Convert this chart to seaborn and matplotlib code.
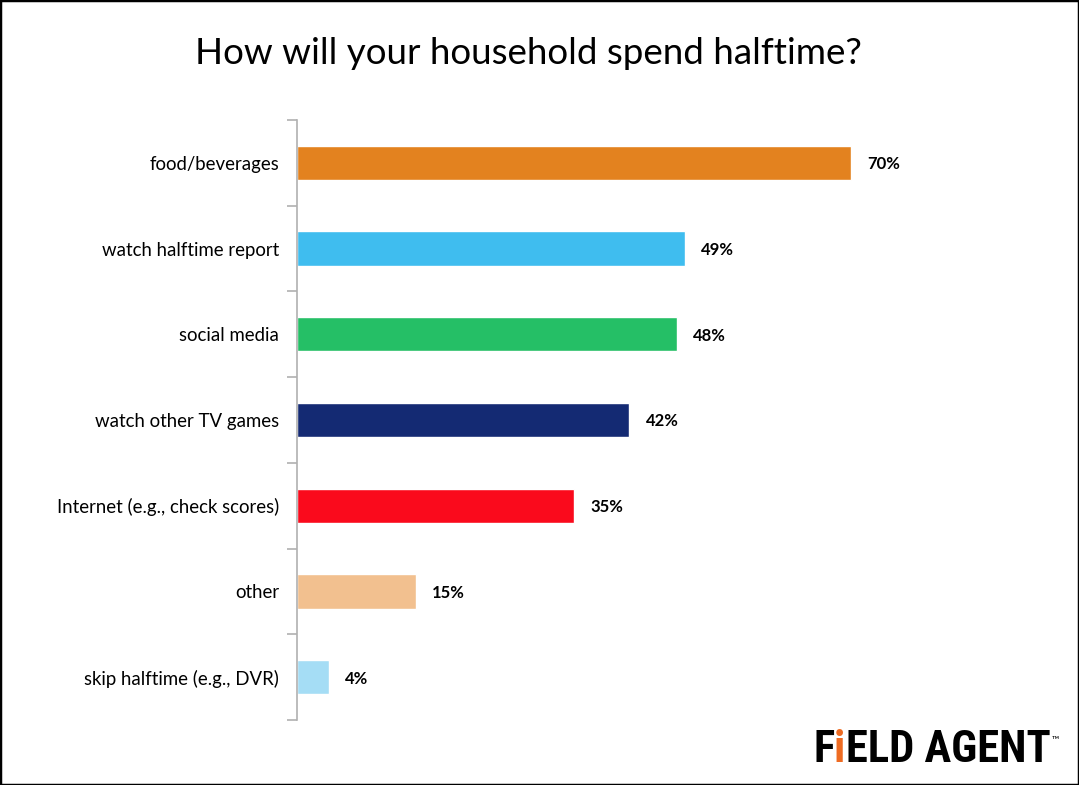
import matplotlib
matplotlib.use("Agg")
import matplotlib.pyplot as plt
import seaborn as sns
import pandas as pd
from matplotlib.patches import Rectangle
from matplotlib import font_manager

categories = ["food/beverages", "watch halftime report", "social media",
              "watch other TV games", "Internet (e.g., check scores)",
              "other", "skip halftime (e.g., DVR)"]
values = [70, 49, 48, 42, 35, 15, 4]
colors = ["#E3821F", "#3FBDEF", "#25BF66", "#142A73", "#FA0A1C", "#F2C08F", "#A5DDF5"]
title = "How will your household spend halftime?"

sns.set_style("white")
plt.rcParams['font.family'] = ['Lato', 'DejaVu Sans']
plt.rcParams['text.color'] = 'black'

names = {f.name for f in font_manager.fontManager.ttflist}
logo_font = "DejaVu Sans"
for cand in ["Roboto Condensed", "Open Sans Condensed", "Liberation Sans Narrow",
             "Roboto", "Liberation Sans"]:
    if cand in names:
        logo_font = cand
        break

df = pd.DataFrame({"cat": categories, "val": values})

fig = plt.figure(figsize=(10.79, 7.85), dpi=100)
ax = fig.add_axes([297/1079, 1 - 720/785, (1060 - 297)/1079, 600/785])
sns.barplot(data=df, x="val", y="cat", hue="cat", palette=colors, legend=False,
            width=0.4, ax=ax, saturation=1)
ax.set_xlim(0, (1060 - 297) / 7.91)
ax.set_ylim(6.5, -0.5)
ax.set_xlabel("")
ax.set_ylabel("")
ax.set_xticks([])
for s in ["top", "right", "bottom"]:
    ax.spines[s].set_visible(False)
ax.spines["left"].set_color("#b0b0b0")
ax.spines["left"].set_linewidth(1.2)
ax.set_yticks(range(len(categories)))
ax.set_yticklabels(categories, fontsize=13.4)
ax.tick_params(axis="y", which="major", length=0, pad=13, colors="black")
ax.set_yticks([i - 0.5 for i in range(len(categories) + 1)], minor=True)
ax.tick_params(axis="y", which="minor", length=7, width=1.2, color="#b0b0b0", left=True)

for c in ax.containers:
    for t in ax.bar_label(c, fmt="%g%%", padding=12, fontsize=12, fontweight="bold"):
        t.set_va("center_baseline")

fig.text(0.49, 1 - 53/785, title, ha="center", va="center", fontsize=26.5)

# logo: size chosen so the word spans the same width as in the reference
renderer = fig.canvas.get_renderer()
probe = fig.text(0, 0, "FiELD AGENT", fontsize=40, fontweight="bold", family=logo_font)
w = probe.get_window_extent(renderer).width
probe.remove()
fs = 40 * 237 / w
t1 = fig.text(813/1079, 1 - 762/785, "F", fontsize=fs, fontweight="bold",
              family=logo_font, color="black", ha="left", va="baseline")
t2 = ax.annotate("i", xy=(1, 0), xycoords=t1, xytext=(0, 0), textcoords="offset points",
                 fontsize=fs, fontweight="bold", family=logo_font,
                 color="#EE6B22", va="bottom", ha="left", annotation_clip=False)
t3 = ax.annotate("ELD AGENT", xy=(1, 0), xycoords=t2, xytext=(0, 0), textcoords="offset points",
                 fontsize=fs, fontweight="bold", family=logo_font,
                 color="black", va="bottom", ha="left", annotation_clip=False)
ax.annotate("™", xy=(1, 1), xycoords=t3, xytext=(1, -4), textcoords="offset points",
            fontsize=7, color="black", va="top", ha="left", annotation_clip=False)

fig.patches.append(Rectangle((0, 0), 1, 1, transform=fig.transFigure, fill=False,
                             edgecolor="black", linewidth=2.5, zorder=10))

fig.savefig("out.png", dpi=100)
